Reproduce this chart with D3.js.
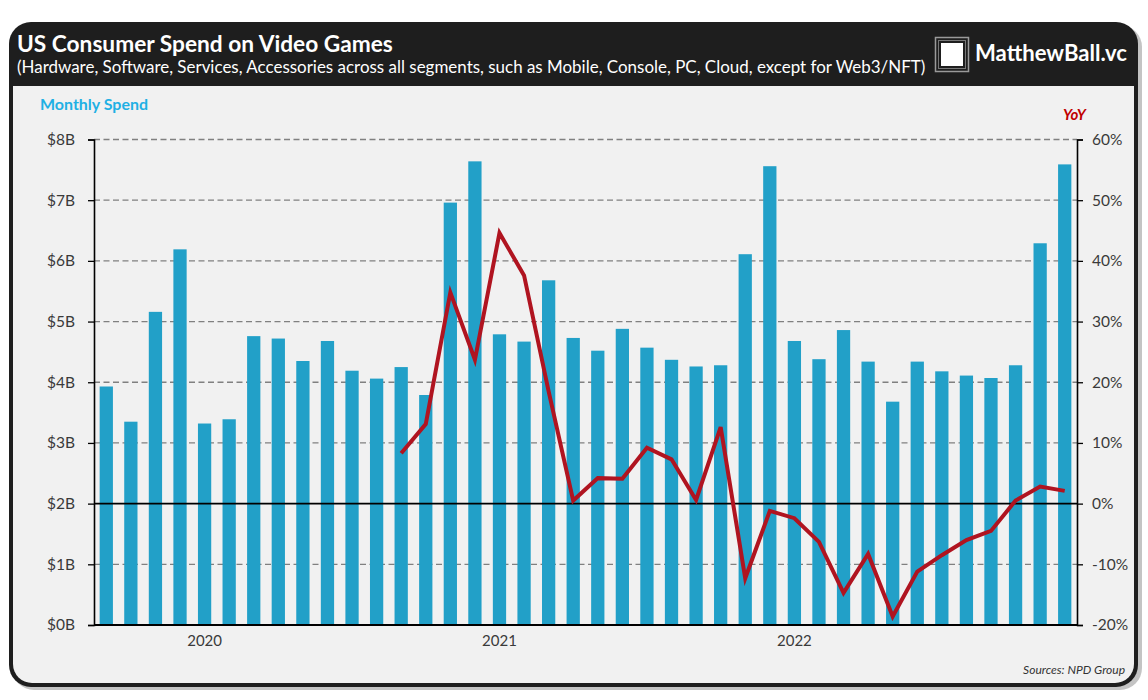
<!DOCTYPE html>
<html><head><meta charset="utf-8">
<script src="https://cdn.jsdelivr.net/npm/d3@7"></script>
<style>
html,body{margin:0;padding:0;background:#fff;}
svg text{font-family:Lato,"Open Sans",sans-serif;}
</style></head>
<body><svg id="c" width="1148" height="700"></svg>
<script>
// ---------- data ----------
const months = ["2019-09","2019-10","2019-11","2019-12",
  "2020-01","2020-02","2020-03","2020-04","2020-05","2020-06","2020-07","2020-08","2020-09","2020-10","2020-11","2020-12",
  "2021-01","2021-02","2021-03","2021-04","2021-05","2021-06","2021-07","2021-08","2021-09","2021-10","2021-11","2021-12",
  "2022-01","2022-02","2022-03","2022-04","2022-05","2022-06","2022-07","2022-08","2022-09","2022-10","2022-11","2022-12"];
const spend = [3.93,3.35,5.16,6.19,
  3.32,3.39,4.76,4.72,4.35,4.68,4.19,4.06,4.25,3.79,6.96,7.64,
  4.79,4.67,5.68,4.73,4.52,4.88,4.57,4.37,4.26,4.28,6.11,7.56,
  4.68,4.38,4.86,4.34,3.68,4.34,4.18,4.11,4.07,4.28,6.29,7.59];
const yoy = [null,null,null,null,
  null,null,null,null,null,null,null,null,8.3,13.1,34.8,23.7,
  44.6,37.6,18.5,0.5,4.2,4.1,9.2,7.3,0.6,12.6,-12.3,-1.2,
  -2.4,-6.3,-14.7,-8.3,-18.6,-11.2,-8.5,-6.0,-4.5,0.5,2.8,2.1];
const leftTicks = [0,1,2,3,4,5,6,7,8];
const leftTickLabels = ["$0B","$1B","$2B","$3B","$4B","$5B","$6B","$7B","$8B"];
const rightTicks = [-20,-10,0,10,20,30,40,50,60];
const rightTickLabels = ["-20%","-10%","0%","10%","20%","30%","40%","50%","60%"];
const yearTicks = ["2020-01","2021-01","2022-01"];
const yearLabels = ["2020","2021","2022"];
const title = "US Consumer Spend on Video Games";
const subtitle = "(Hardware, Software, Services, Accessories across all segments, such as Mobile, Console, PC, Cloud, except for Web3/NFT)";

// ---------- drawing ----------
const svg = d3.select("#c");
function fit(sel, w){ // adjust font-size so the text spans width w
  const n = sel.node(); const cur = n.getComputedTextLength();
  const fs = parseFloat(sel.attr("font-size"));
  sel.attr("font-size", (fs*w/cur).toFixed(2));
}
// frame
svg.append("rect").attr("x",12).attr("y",25).attr("width",1130).attr("height",665).attr("rx",22).attr("fill","#c4c4c4");
svg.append("rect").attr("x",9).attr("y",22).attr("width",1129).attr("height",665).attr("rx",22).attr("fill","#1e1e1e");
svg.append("rect").attr("x",13).attr("y",86).attr("width",1121).attr("height",597).attr("rx",19).attr("fill","#f1f1f1");
svg.append("rect").attr("x",13).attr("y",86).attr("width",1121).attr("height",40).attr("fill","#f1f1f1");

// header texts
const t1 = svg.append("text").attr("x",17).attr("y",52).attr("fill","#fff").attr("font-weight",700).attr("font-size",22).text(title);
fit(t1, 376);
const t2 = svg.append("text").attr("x",17).attr("y",73).attr("fill","#fff").attr("font-size",15).text(subtitle);
fit(t2, 909);
// logo
svg.append("rect").attr("x",935.5).attr("y",37.5).attr("width",33).attr("height",34).attr("fill","none").attr("stroke","#9a9a9a").attr("stroke-width",1.5);
svg.append("rect").attr("x",938.5).attr("y",40.5).attr("width",27).attr("height",28).attr("fill","none").attr("stroke","#777").attr("stroke-width",1);
svg.append("rect").attr("x",941).attr("y",43).attr("width",22).attr("height",23).attr("fill","#fff");
const t3 = svg.append("text").attr("x",975).attr("y",61).attr("fill","#fff").attr("font-weight",700).attr("font-size",20).text("MatthewBall.vc");
fit(t3, 152);

// scales
const x = d3.scaleBand().domain(months).range([94,1077]).paddingInner(0.46).paddingOuter(0.23);
const yL = d3.scaleLinear().domain([0,8]).range([625,139.5]);
const yR = d3.scaleLinear().domain([-20,60]).range([625,139.5]);

// gridlines
svg.append("g").selectAll("line").data(leftTicks.filter(d=>d!==0 && d!==2)).join("line")
  .attr("x1",94).attr("x2",1077).attr("y1",d=>yL(d)).attr("y2",d=>yL(d))
  .attr("stroke","#808080").attr("stroke-width",1.3).attr("stroke-dasharray","6,3.5");

// bars
svg.append("g").selectAll("rect").data(months).join("rect")
  .attr("x",d=>x(d)).attr("width",x.bandwidth())
  .attr("y",(d,i)=>yL(spend[i])).attr("height",(d,i)=>yL(0)-yL(spend[i]))
  .attr("fill","#22a0c8");

// zero (YoY) line at $2B
svg.append("line").attr("x1",94).attr("x2",1077).attr("y1",yR(0)).attr("y2",yR(0)).attr("stroke","#000").attr("stroke-width",1.6);

// axes
const axL = svg.append("g").attr("transform","translate(94,0)")
  .call(d3.axisLeft(yL).tickValues(leftTicks).tickFormat((d,i)=>leftTickLabels[i]).tickSize(6).tickPadding(13));
const axR = svg.append("g").attr("transform","translate(1077,0)")
  .call(d3.axisRight(yR).tickValues(rightTicks).tickFormat((d,i)=>rightTickLabels[i]).tickSize(6).tickPadding(9));
const axB = svg.append("g").attr("transform","translate(0,625)")
  .call(d3.axisBottom(x).tickValues(yearTicks).tickFormat((d,i)=>yearLabels[i]).tickSize(0).tickPadding(10));
[axL,axR].forEach(a=>{
  a.select(".domain").attr("stroke","#000").attr("stroke-width",1.6);
  a.selectAll(".tick line").attr("stroke","#000").attr("stroke-width",1.3);
  a.selectAll("text").attr("font-size",15.5).attr("fill","#3a3a3a").attr("font-family","Lato");
});
axB.select(".domain").remove();
svg.append("line").attr("x1",94).attr("x2",1077).attr("y1",625).attr("y2",625).attr("stroke","#000").attr("stroke-width",1.8);
axB.selectAll("text").attr("font-size",15).attr("fill","#3a3a3a").attr("font-family","Lato");

// YoY line
const line = d3.line().defined(d=>d!==null)
  .x((d,i)=>x(months[i])+x.bandwidth()/2).y(d=>yR(d));
svg.append("path").datum(yoy).attr("d",line).attr("fill","none")
  .attr("stroke","#b01420").attr("stroke-width",4).attr("stroke-linejoin","miter").attr("stroke-linecap","butt");

// axis titles
const ms = svg.append("text").attr("x",40).attr("y",110).attr("fill","#1fb0e4").attr("font-weight",700).attr("font-size",15).text("Monthly Spend");
fit(ms,108);
svg.append("text").attr("x",1063).attr("y",120).attr("fill","#c00000").attr("font-weight",700).attr("font-style","italic").attr("font-size",15).text("YoY");
const src = svg.append("text").attr("x",1125).attr("y",674).attr("text-anchor","end").attr("fill","#333").attr("font-style","italic").attr("font-size",11.5).text("Sources: NPD Group");
fit(src,102);
</script></body></html>
